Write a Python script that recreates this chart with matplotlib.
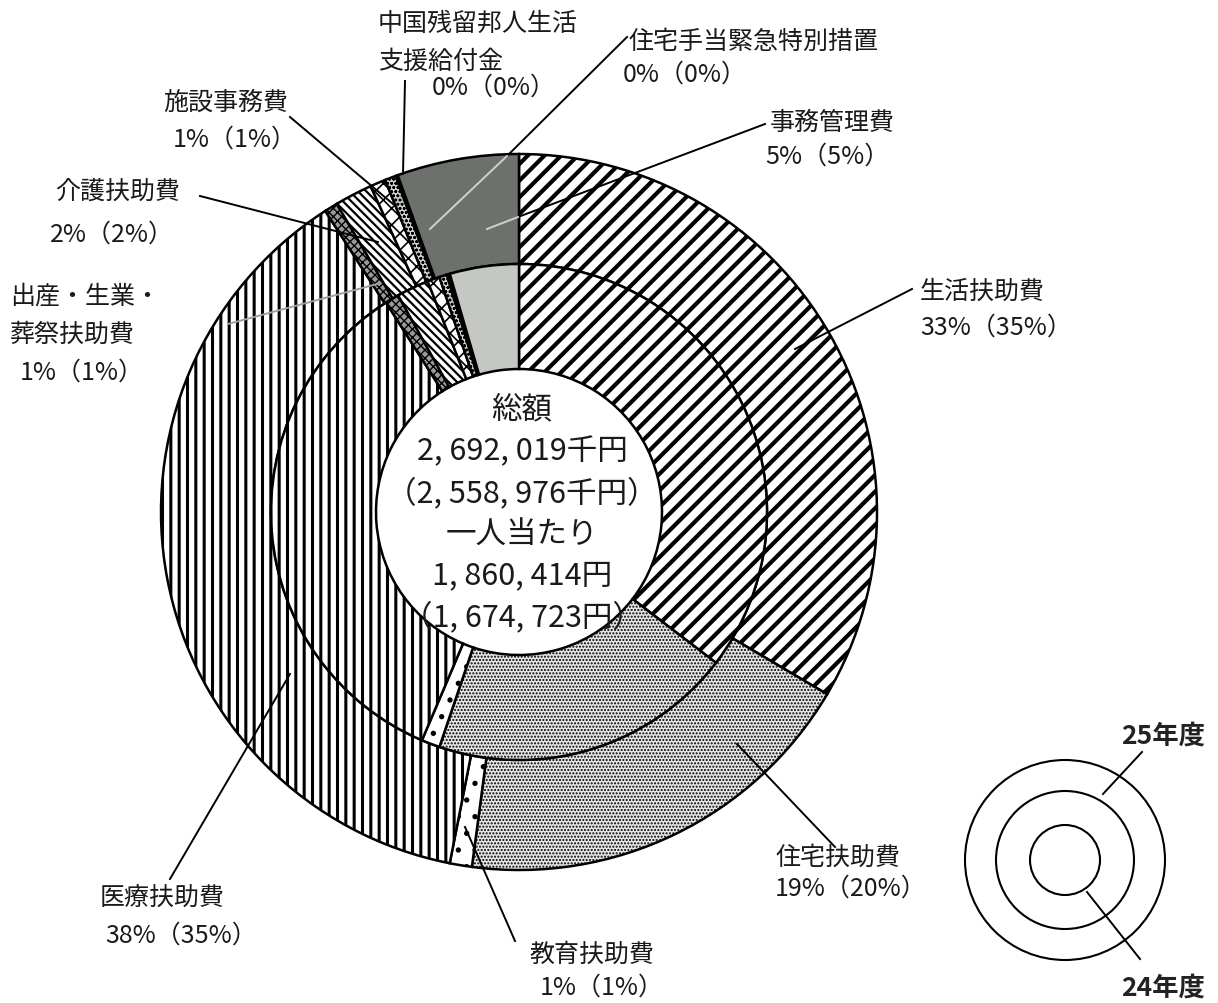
import matplotlib
matplotlib.use("Agg")
import matplotlib.pyplot as plt
from matplotlib.patches import Circle

plt.rcParams['font.family'] = ['Noto Sans CJK JP', 'DejaVu Sans']
plt.rcParams['hatch.linewidth'] = 2.0

# categories, clockwise from 12 o'clock
categories = ['生活扶助費', '住宅扶助費', '教育扶助費', '医療扶助費', '出産・生業・葬祭扶助費',
              '介護扶助費', '施設事務費', '中国残留邦人生活支援給付金', '住宅手当緊急特別措置', '事務管理費']
share_25 = [33.5, 18.6, 1.0, 37.8, 0.6, 1.7, 0.7, 0.5, 0.1, 5.5]   # outer ring (25年度)
share_24 = [35.4, 19.8, 1.2, 34.6, 0.9, 2.1, 0.8, 0.5, 0.2, 4.5]   # inner ring (24年度)
label_25 = ['33%', '19%', '1%', '38%', '1%', '2%', '1%', '0%', '0%', '5%']
label_24 = ['35%', '20%', '1%', '35%', '1%', '2%', '1%', '0%', '0%', '5%']

total_text = ['総額', '2, 692, 019千円', '（2, 558, 976千円）', '一人当たり', '1, 860, 414円', '（1, 674, 723円）']

W, H = 1218, 1004


def Y(y):
    return H - y


fig = plt.figure(figsize=(W / 100, H / 100), dpi=100)
ax = fig.add_axes([0, 0, 1, 1])

hatches = ['//', '.....', '.', '||', 'xxxx', '\\\\\\\\', 'xx', 'oooo', '', '']
faces_outer = ['white', '#e6e6e6', 'white', 'white', '#9a9a9a', 'white', 'white', '#cfcfcf', 'black', '#6d716c']
faces_inner = ['white', '#e6e6e6', 'white', 'white', '#9a9a9a', 'white', 'white', '#cfcfcf', 'black', '#c5c7c3']
hatch_lw = [3.0, 1.0, 1.4, 2.2, 1.0, 1.6, 1.2, 0.8, 1.0, 1.0]

cx, cy = 519, Y(513)
for vals, rad, wid, faces in [(share_25, 358, 110, faces_outer), (share_24, 248, 105, faces_inner)]:
    wedges, _ = ax.pie(vals, radius=rad, center=(cx, cy), startangle=90, counterclock=False,
                       wedgeprops=dict(width=wid, edgecolor='black', linewidth=1.8))
    for w, h, fc, hl in zip(wedges, hatches, faces, hatch_lw):
        w.set_facecolor(fc)
        w.set_hatch(h)
        try:
            w.set_hatch_linewidth(hl)
        except AttributeError:
            pass

# center text
for i, t in enumerate(total_text):
    ax.text(cx + 3, Y(410 + i * 41.5), t, ha='center', va='center', fontsize=22, color='#1a1a1a')

# labels: (lines, x, y of first line, line spacing)
fs = 18
pct = [a + '（' + b + '）' for a, b in zip(label_25, label_24)]
labels = [
    (['生活扶助費', pct[0]], 920, 292, 36),
    (['住宅扶助費', pct[1]], 775, 858, 31),
    (['教育扶助費', pct[2]], 530, 955, 33),
    (['医療扶助費', pct[3]], 100, 898, 38),
    (['出産・生業・', '葬祭扶助費', pct[4]], 10, 297, 38),
    (['介護扶助費', pct[5]], 55, 192, 43),
    (['施設事務費', pct[6]], 163, 103, 37),
    (['中国残留邦人生活', '支援給付金'], 378, 24, 38),
    (['住宅手当緊急特別措置', pct[8]], 628, 42, 33),
    (['事務管理費', pct[9]], 770, 123, 34),
]
for lines, x, y, dy in labels:
    for j, s in enumerate(lines):
        xx = x
        if j > 0 and lines[0] in ('介護扶助費', '事務管理費', '住宅手当緊急特別措置'):
            xx = x - 5
        if s == pct[2]:
            xx = x + 10
        if s == pct[3]:
            xx = x + 5
        ax.text(xx, Y(y + j * dy), s, ha='left', va='center', fontsize=fs, color='#1a1a1a')
ax.text(432, Y(88), pct[7], ha='left', va='center', fontsize=fs, color='#1a1a1a')

# leader lines
leaders = [
    ((912, 290), (795, 350), 'black'),
    ((835, 848), (737, 745), 'black'),
    ((515, 942), (465, 828), 'black'),
    ((170, 880), (290, 675), 'black'),
    ((228, 325), (377, 285), '#a0a0a0'),
    ((200, 197), (378, 243), 'black'),
    ((290, 118), (393, 205), 'black'),
    ((405, 82), (403, 175), 'black'),
    ((627, 38), (507, 157), 'black'),
    ((507, 157), (430, 230), '#d0d0d0'),
    ((765, 125), (518, 218), 'black'),
    ((518, 218), (487, 230), '#d0d0d0'),
]
for (x0, y0), (x1, y1), c in leaders:
    ax.plot([x0, x1], [Y(y0), Y(y1)], color=c, lw=1.4, zorder=5)

# legend rings
lx, ly = 1065, Y(861)
for r in [100, 69, 35]:
    ax.add_patch(Circle((lx, ly), r, fill=False, edgecolor='black', lw=1.5, zorder=5))
ax.plot([1142, 1103], [Y(753), Y(795)], color='black', lw=1.4)
ax.plot([1087, 1140], [Y(893), Y(960)], color='black', lw=1.4)
ax.text(1163, Y(736), '25年度', ha='center', va='center', fontsize=19, fontweight='bold', color='#222222')
ax.text(1163, Y(988), '24年度', ha='center', va='center', fontsize=19, fontweight='bold', color='#222222')

ax.set_xlim(0, W)
ax.set_ylim(0, H)
ax.set_aspect('equal')
ax.axis('off')

fig.savefig('out.png', dpi=100, facecolor='white')
